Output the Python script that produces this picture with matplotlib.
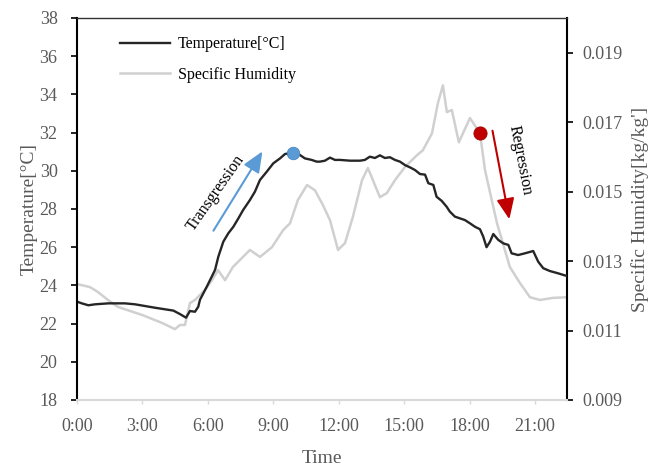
import numpy as np
import matplotlib.pyplot as plt

plt.rcParams['font.family'] = ['Liberation Serif', 'DejaVu Serif']

# temperature series (hours, degC)
temp_hours = [0.00, 0.22, 0.52, 0.83, 1.44, 2.20, 2.66, 3.12, 3.58, 4.03, 4.42, 4.72,
              5.00, 5.18, 5.41, 5.56, 5.64, 5.95, 6.18, 6.33, 6.48, 6.71, 6.94, 7.17,
              7.40, 7.62, 7.93, 8.16, 8.39, 8.70, 9.00, 9.31, 9.54, 9.92, 10.22, 10.45,
              10.76, 10.99, 11.14, 11.37, 11.60, 11.83, 12.06, 12.52, 12.98, 13.20, 13.43,
              13.66, 13.89, 14.12, 14.35, 14.58, 14.81, 15.04, 15.27, 15.50, 15.73, 15.96,
              16.11, 16.34, 16.49, 16.72, 16.95, 17.10, 17.33, 17.56, 17.79, 18.02, 18.25,
              18.48, 18.63, 18.78, 18.94, 19.09, 19.32, 19.55, 19.78, 19.93, 20.23, 20.54,
              20.92, 21.15, 21.38, 21.69, 22.07, 22.47]
temp_vals = [23.15, 23.06, 22.96, 23.01, 23.06, 23.06, 23.01, 22.92, 22.83, 22.75, 22.68, 22.50,
             22.31, 22.66, 22.62, 22.88, 23.25, 23.93, 24.46, 24.81, 25.50, 26.29, 26.73, 27.07,
             27.51, 27.95, 28.47, 28.91, 29.52, 29.95, 30.39, 30.65, 30.88, 30.95, 30.83, 30.65,
             30.57, 30.48, 30.48, 30.53, 30.69, 30.57, 30.57, 30.53, 30.53, 30.57, 30.74,
             30.67, 30.81, 30.67, 30.71, 30.57, 30.48, 30.30, 30.18, 30.04, 29.83, 29.80,
             29.35, 29.26, 28.64, 28.43, 28.12, 27.86, 27.60, 27.51, 27.42, 27.25, 27.07,
             26.94, 26.55, 26.00, 26.29, 26.69, 26.38, 26.20, 26.12, 25.68, 25.59, 25.68,
             25.80, 25.24, 24.90, 24.75, 24.63, 24.49]

# specific humidity series (hours, kg/kg')
hum_hours = [0.00, 0.60, 0.96, 1.42, 1.88, 2.98, 3.90, 4.49, 4.72, 4.95, 5.18, 5.41, 5.87,
             6.19, 6.47, 6.79, 7.15, 7.93, 8.39, 8.94, 9.45, 9.77, 10.13, 10.55, 10.91,
             11.28, 11.60, 11.97, 12.29, 12.65, 13.07, 13.34, 13.57, 13.89, 14.21, 14.58,
             15.04, 15.59, 15.86, 16.28, 16.55, 16.78, 16.96, 17.19, 17.51, 18.02, 18.48,
             18.71, 19.26, 19.85, 20.31, 20.77, 21.23, 21.82, 22.47]
hum_vals = [0.01234, 0.01225, 0.01211, 0.01188, 0.01168, 0.01145, 0.01122, 0.01104, 0.01116,
            0.01116, 0.01179, 0.01188, 0.01217, 0.01245, 0.01274, 0.01245, 0.01283, 0.01332,
            0.01312, 0.01340, 0.01389, 0.01409, 0.01476, 0.01519, 0.01504, 0.01461, 0.01418,
            0.01332, 0.01352, 0.01427, 0.01533, 0.01568, 0.01533, 0.01484, 0.01496, 0.01533,
            0.01571, 0.01605, 0.01619, 0.01668, 0.01755, 0.01806, 0.01729, 0.01735, 0.01642,
            0.01712, 0.01668, 0.01562, 0.01409, 0.01283, 0.01237, 0.01196, 0.01188, 0.01194,
            0.01196]

x_ticks = [0, 3, 6, 9, 12, 15, 18, 21]
x_labels = ['0:00', '3:00', '6:00', '9:00', '12:00', '15:00', '18:00', '21:00']
hum_ticks = [0.009, 0.011, 0.013, 0.015, 0.017, 0.019]

gray = '#595959'

fig = plt.figure(figsize=(6.54, 4.70), dpi=100)
ax = fig.add_axes([77/654, 1 - 400/470, 490/654, 382/470])
ax2 = ax.twinx()
ax.set_zorder(ax2.get_zorder() + 1)
ax.patch.set_visible(False)

l2, = ax2.plot(hum_hours, hum_vals, color='#D0D0D0', lw=1.8)
l1, = ax.plot(temp_hours, temp_vals, color='#262626', lw=1.7)

ax.set_xlim(0, 22.47)
ax.set_ylim(18, 38)
ax.set_yticks(np.arange(18, 39, 2))
ax2.set_ylim(0.009, 0.020)
ax2.set_yticks(hum_ticks)
ax2.set_yticklabels(['%.3f' % v for v in hum_ticks])
ax.set_xticks(x_ticks)
ax.set_xticklabels(x_labels)

for a in (ax, ax2):
    for s in a.spines.values():
        s.set_visible(False)
ax.spines['left'].set_visible(True)
ax.spines['left'].set_linewidth(1.5)
ax.spines['top'].set_visible(True)
ax.spines['top'].set_linewidth(1.0)
ax.spines['top'].set_color('#333333')
ax.spines['bottom'].set_visible(True)
ax.spines['bottom'].set_color('#D9D9D9')
ax.spines['bottom'].set_linewidth(1.5)
ax2.spines['right'].set_visible(True)
ax2.spines['right'].set_linewidth(1.5)

ax.tick_params(axis='y', direction='out', length=4, width=1.2, color='black',
               labelsize=13, labelcolor=gray, pad=10)
ax.tick_params(axis='x', direction='out', length=3, width=1, color='#D9D9D9',
               labelsize=13, labelcolor=gray, pad=10)
ax2.tick_params(axis='y', direction='out', length=4, width=1.2, color='black',
                labelsize=13, labelcolor=gray, pad=7)

ax.set_xlabel('Time', fontsize=14, color=gray)
ax.xaxis.set_label_coords(0.5, -0.13)
ax.set_ylabel('Temperature[°C]', fontsize=14, color=gray, va='center')
ax.yaxis.set_label_coords(-0.098, 0.5)
ax2.set_ylabel("Specific Humidity[kg/kg']", fontsize=14, color=gray, va='center', rotation=90)
ax2.yaxis.set_label_coords(1.149, 0.5)

# markers and arrows
ax.plot([9.92], [30.95], 'o', ms=9, color='#5B9BD5', mec='#4A86C0', mew=0.6, zorder=5)
ax.plot([18.48], [32.0], 'o', ms=9.5, color='#C00000', mec='#A00000', mew=0.6, zorder=5)
ax.annotate('', xy=(8.57, 31.14), xytext=(6.19, 26.74),
            arrowprops=dict(arrowstyle='-|>,head_length=0.7,head_width=0.3',
                            mutation_scale=18, color='#5B9BD5', lw=1.5))
ax.annotate('', xy=(19.85, 27.32), xytext=(19.03, 32.24),
            arrowprops=dict(arrowstyle='-|>,head_length=0.7,head_width=0.3',
                            mutation_scale=18, color='#C00000', lw=1.5))
ax.text(6.38, 28.85, 'Transgression', rotation=55, fontsize=11.5, ha='center', va='center')
ax.text(20.31, 30.57, 'Regression', rotation=-79, fontsize=11.5, ha='center', va='center')

ax.legend([l1, l2], ['Temperature[°C]', 'Specific Humidity'], loc='upper left',
          bbox_to_anchor=(0.088, 0.952), frameon=False, fontsize=11.5, handlelength=3.1,
          handletextpad=0.5, labelspacing=0.9, borderpad=0, borderaxespad=0)

fig.savefig('out.png', dpi=100)
